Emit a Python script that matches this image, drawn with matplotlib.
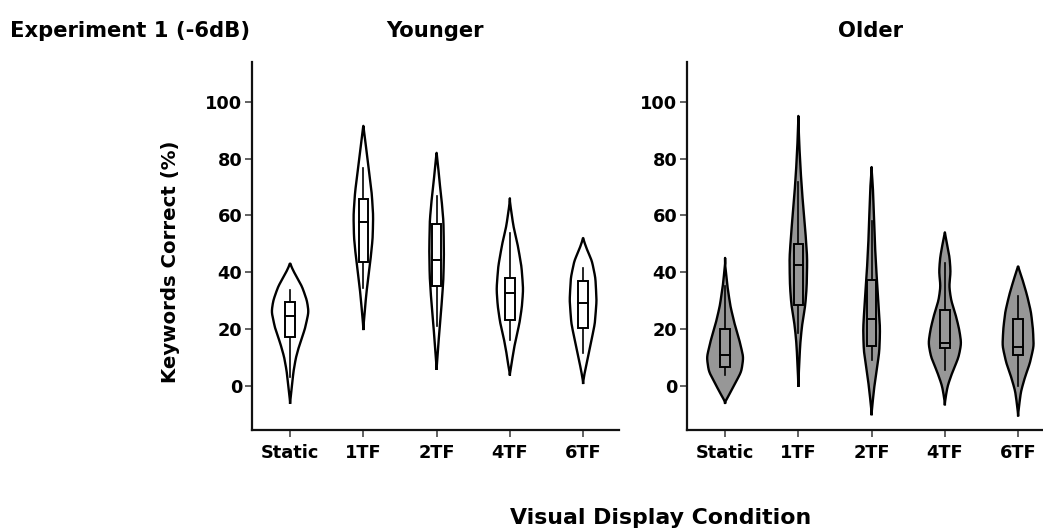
import numpy as np
import matplotlib
matplotlib.use("Agg")
import matplotlib.pyplot as plt
from matplotlib.patches import Rectangle

plt.rcParams['font.family'] = ['DejaVu Sans']
plt.rcParams['font.weight'] = 'bold'

conditions = ["Static", "1TF", "2TF", "4TF", "6TF"]
groups = ["Younger", "Older"]

# Violin outlines: keyword score levels (%) and the relative half-width at each level
young_levels = [
    [43, 40, 35, 30, 26, 20, 15, 10, 5, 0, -6],
    [91.5, 88, 82, 75, 68, 60, 52, 45, 38, 32, 26, 20],
    [82, 78, 72, 66, 58, 47, 38, 30, 22, 15, 10, 6],
    [66, 62, 56, 50, 42, 34, 28, 22, 16, 10, 6, 4],
    [52, 48, 44, 38, 30, 22, 15, 10, 6, 3, 1],
]
young_widths = [
    [0, 4, 12, 17, 18.7, 15, 10, 6, 3.5, 2, 0],
    [0, 1.5, 3.5, 6, 8.5, 10, 9.5, 7.5, 5, 3, 1.5, 0],
    [0, 1.5, 3, 5, 7, 7.5, 7, 5.5, 3.5, 2, 1, 0],
    [0, 1.5, 4, 8, 12, 13.7, 12.5, 10, 6, 3, 1.5, 0],
    [0, 4, 9, 12.5, 13.7, 12, 8, 5, 2.5, 1, 0],
]
old_levels = [
    [45, 40, 35, 28, 22, 16, 10, 5, 1, -3, -6],
    [95, 85, 75, 65, 55, 45, 35, 28, 22, 15, 8, 0],
    [77, 70, 60, 50, 40, 30, 20, 12, 5, 0, -5, -10],
    [54, 50, 45, 40, 35, 30, 25, 20, 15, 10, 5, 0, -3, -6.5],
    [42, 38, 32, 26, 20, 14, 8, 3, -2, -6, -10.4],
]
old_widths = [
    [0, 1.5, 3, 6, 10, 15, 19, 17, 11, 5, 0],
    [0, 1, 2.5, 4.5, 7, 9, 8.5, 7, 4, 2, 1, 0],
    [0, 1.5, 2.5, 3.5, 5, 7, 8.7, 8, 5, 3, 1.5, 0],
    [0, 2.5, 5, 6, 4.5, 6.5, 11, 14.5, 16.7, 14, 8, 3, 1.5, 0],
    [0, 4, 9, 13, 15, 15.8, 12, 7, 3, 1.5, 0],
]

# Box summaries: lower whisker, Q1, median, Q3, upper whisker
young_box = [
    [3.2, 17.3, 24.6, 29.5, 33.8],
    [34.4, 43.6, 57.6, 65.6, 76.5],
    [20.9, 35.2, 44.4, 56.8, 66.8],
    [16.1, 23.2, 32.6, 37.9, 53.9],
    [11.4, 20.3, 29.3, 36.7, 41.5],
]
old_box = [
    [3.8, 6.5, 10.8, 20.0, 35.0],
    [18.6, 28.3, 42.6, 50.0, 71.6],
    [9.1, 14.1, 23.6, 37.3, 57.9],
    [5.5, 13.2, 15.0, 26.5, 43.2],
    [-0.1, 10.8, 13.8, 23.6, 31.7],
]

FIG_W, FIG_H = 1043, 532
WIDTH_SCALE = 1 / 73.3      # relative half-width -> category units
BOX_HALF = 0.065
EDGE = "black"


def smooth_outline(levels, widths, n=500):
    """Resample an outline on a fine grid and round off its corners."""
    lv = np.asarray(levels, float)[::-1]
    wd = np.asarray(widths, float)[::-1]
    y = np.linspace(lv[0], lv[-1], n)
    w = np.interp(y, lv, wd)
    half = 30
    k = np.exp(-0.5 * (np.arange(-half, half + 1) / 10.0) ** 2)
    k /= k.sum()
    pad = np.pad(w, half, mode="constant")
    w = np.convolve(pad, k, mode="same")[half:-half]
    w = np.maximum(w - w[0], 0) if w[0] > 0 else w
    w[0] = w[-1] = 0
    return y, w


def draw_panel(ax, levels, widths, boxes, color):
    for i, (lv, wd, bx) in enumerate(zip(levels, widths, boxes)):
        y, w = smooth_outline(lv, wd)
        hw = w * WIDTH_SCALE
        ax.fill_betweenx(y, i - hw, i + hw, facecolor=color, edgecolor="none", zorder=2)
        xs = np.concatenate([i - hw, (i + hw)[::-1], [i - hw[0]]])
        ys = np.concatenate([y, y[::-1], [y[0]]])
        ax.plot(xs, ys, color=EDGE, lw=1.7, zorder=3, solid_joinstyle="round")
        lo, q1, med, q3, hi = bx
        ax.plot([i, i], [lo, q1], color=EDGE, lw=1.2, zorder=4)
        ax.plot([i, i], [q3, hi], color=EDGE, lw=1.2, zorder=4)
        ax.add_patch(Rectangle((i - BOX_HALF, q1), 2 * BOX_HALF, q3 - q1,
                               facecolor=color, edgecolor=EDGE, lw=1.4, zorder=5))
        ax.plot([i - BOX_HALF, i + BOX_HALF], [med, med], color=EDGE, lw=1.4, zorder=6)


def style_axis(ax):
    ax.set_xlim(-0.52, 4.49)
    ax.set_ylim(-15.6, 114)
    ax.set_yticks([0, 20, 40, 60, 80, 100])
    ax.set_xticks(range(len(conditions)))
    ax.set_xticklabels(conditions)
    for s in ["top", "right"]:
        ax.spines[s].set_visible(False)
    for s in ["left", "bottom"]:
        ax.spines[s].set_linewidth(1.6)
        ax.spines[s].set_color("#111111")
    ax.tick_params(axis="both", length=5, width=1.3, color="#555555",
                   labelsize=12.8, pad=2)
    ax.tick_params(axis="x", pad=5)
    for lab in ax.get_xticklabels() + ax.get_yticklabels():
        lab.set_fontweight("bold")


fig = plt.figure(figsize=(FIG_W / 100, FIG_H / 100), dpi=100)
ax_w = 367 / FIG_W
ax_h = 368 / FIG_H
ax_b = 1 - 430 / FIG_H
ax_young = fig.add_axes([252 / FIG_W, ax_b, ax_w, ax_h])
ax_old = fig.add_axes([687 / FIG_W, ax_b, ax_w, ax_h])

draw_panel(ax_young, young_levels, young_widths, young_box, "white")
draw_panel(ax_old, old_levels, old_widths, old_box, "#979797")

for ax, name in ((ax_young, groups[0]), (ax_old, groups[1])):
    style_axis(ax)
    bb = ax.get_position()
    fig.text(bb.x0 + bb.width / 2, 1 - 31 / FIG_H, name, ha="center", va="center",
             fontsize=15.2, fontweight="bold")

fig.text(10 / FIG_W, 1 - 31 / FIG_H, "Experiment 1 (-6dB)", ha="left", va="center",
         fontsize=15.2, fontweight="bold")
fig.text(170 / FIG_W, 1 - 262 / FIG_H, "Keywords Correct (%)", rotation=90,
         ha="center", va="center", fontsize=14.2, fontweight="bold")
fig.text(661 / FIG_W, 1 - 518 / FIG_H, "Visual Display Condition", ha="center",
         va="center", fontsize=15.8, fontweight="bold")

fig.savefig("out.png", dpi=100, facecolor="white")
